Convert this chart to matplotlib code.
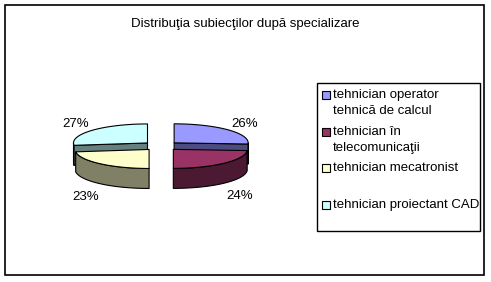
import numpy as np
import matplotlib
matplotlib.use("Agg")
import matplotlib.pyplot as plt
from matplotlib.patches import Polygon, Rectangle

plt.rcParams['font.family'] = ['Liberation Sans', 'DejaVu Sans']

title = "Distribuţia subiecţilor după specializare"
categories = ["tehnician operator\ntehnică de calcul",
              "tehnician în\ntelecomunicaţii",
              "tehnician mecatronist",
              "tehnician proiectant CAD"]
shares = [26, 24, 23, 27]
top_colors = ["#9999FF", "#993366", "#FFFFCC", "#CCFFFF"]
side_colors = ["#4C4C80", "#4C1933", "#808066", "#668080"]

# pie layout, in pixels (y grows downwards)
CX, CY = 161, 146
RX, RY = 74, 19
DEPTH = 20
EXPLODE = 18


def ell(cx, cy, th):
    # th: degrees, clockwise from 12 o'clock
    t = np.radians(th)
    return cx + RX * np.sin(t), cy - RY * np.cos(t)


fig = plt.figure(figsize=(4.91, 2.82), dpi=100)
ax = fig.add_axes([0, 0, 1, 1])
ax.set_xlim(0, 491)
ax.set_ylim(282, 0)
ax.axis("off")

ax.add_patch(Rectangle((5, 5), 479, 270, facecolor="white", edgecolor="black", lw=1.2, zorder=0))
ax.text(245, 22, title, ha="center", va="center_baseline", fontsize=9.5)

total = float(sum(shares))
ends = 360 * np.cumsum(shares) / total
starts = np.concatenate([[0], ends[:-1]])
mids = (starts + ends) / 2

# back to front
order = sorted(range(len(shares)), key=lambda i: -np.cos(np.radians(mids[i])))
z = 1
for i in order:
    s, e, m = starts[i], ends[i], mids[i]
    sx = CX + EXPLODE * np.sin(np.radians(m))
    sy = CY - EXPLODE * (RY / RX) * np.cos(np.radians(m))
    kw = dict(edgecolor="black", lw=0.8, joinstyle="round")

    lo, hi = max(s, 90), min(e, 270)
    if hi > lo:
        th = np.linspace(lo, hi, 80)
        x, y = ell(sx, sy, th)
        pts = np.column_stack([np.r_[x, x[::-1]], np.r_[y, y[::-1] + DEPTH]])
        ax.add_patch(Polygon(pts, facecolor=side_colors[i], zorder=z, **kw))
        z += 1
    for ang, visible in ((e, np.sin(np.radians(e)) > 1e-6), (s, -np.sin(np.radians(s)) > 1e-6)):
        if visible:
            px, py = ell(sx, sy, ang)
            pts = [(sx, sy), (px, py), (px, py + DEPTH), (sx, sy + DEPTH)]
            ax.add_patch(Polygon(pts, facecolor=side_colors[i], zorder=z, **kw))
            z += 1
    th = np.linspace(s, e, 120)
    x, y = ell(sx, sy, th)
    pts = np.column_stack([np.r_[sx, x], np.r_[sy, y]])
    ax.add_patch(Polygon(pts, facecolor=top_colors[i], zorder=z, **kw))
    z += 1

    # percentage label
    lx = sx + 1.3 * RX * np.sin(np.radians(m))
    ly = sy - 1.6 * RY * np.cos(np.radians(m))
    if np.cos(np.radians(m)) < 0:
        ly += DEPTH + 3
    ax.text(lx, ly, "%d%%" % round(100 * shares[i] / total), ha="center",
            va="center_baseline", fontsize=9.5, zorder=50)

# legend
ax.add_patch(Rectangle((317, 83), 163, 148, facecolor="white", edgecolor="black", lw=1.0, zorder=60))
for i, label in enumerate(categories):
    yc = 95 + i * 36.7
    ax.add_patch(Rectangle((322, yc - 4), 8, 8, facecolor=top_colors[i], edgecolor="black",
                           lw=0.8, zorder=61))
    ax.text(333, yc - 6, label, ha="left", va="top", fontsize=9.5, linespacing=1.5, zorder=61)

fig.savefig("out.png", dpi=100)
